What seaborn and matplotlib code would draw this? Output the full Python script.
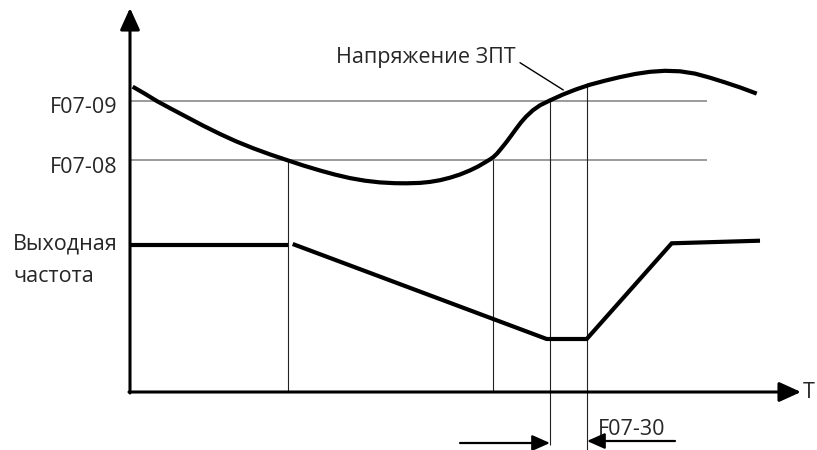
import matplotlib
matplotlib.use("Agg")
import matplotlib.pyplot as plt
import numpy as np
import pandas as pd
import seaborn as sns

sns.set_theme(style="white")
plt.rcParams["font.family"] = ["Open Sans", "DejaVu Sans"]

# DC bus voltage over time (schematic units)
volt_t = [2.7, 15.0, 26.7, 41.0, 56.7, 73.0, 90.0, 106.0, 123.3, 140.0,
          156.7, 173.0, 190.0, 205.0, 220.0, 235.0, 250.0, 265.0, 276.7, 290.0,
          300.0, 310.0, 320.0, 330.0, 340.0, 348.0, 355.0, 360.0, 363.3, 367.0,
          371.0, 376.0, 381.0, 386.0, 391.0, 396.0, 403.0, 410.0, 420.0, 433.0,
          446.0, 460.0, 475.0, 490.0, 505.0, 520.0, 535.0, 550.0, 565.0, 580.0,
          595.0, 610.0, 626.7]
volt_v = [305.3, 298.2, 291.0, 283.3, 275.0, 266.4, 258.0, 250.7, 243.7, 237.6,
          232.0, 226.6, 221.5, 217.4, 213.9, 211.3, 209.6, 208.8, 208.7, 209.1,
          210.1, 211.8, 214.3, 217.5, 221.6, 225.5, 229.6, 232.6, 234.9, 238.4,
          243.2, 249.4, 256.1, 263.0, 269.6, 275.3, 281.8, 286.7, 291.6, 297.5,
          302.6, 307.3, 311.3, 314.9, 318.0, 320.2, 321.2, 320.7, 318.4, 314.3,
          309.6, 304.6, 298.4]

# Output frequency: hold, ramp down, hold, recover
freq_seg = [0, 0, 1, 1, 1, 1, 1]
freq_t = [0.0, 158.0, 162.7, 416.7, 456.7, 541.7, 630.0]
freq_f = [147.0, 147.0, 148.0, 53.0, 53.0, 148.7, 151.3]

# Threshold levels
level_names = ["F07-09", "F07-08"]
level_values = [291.0, 232.0]
level_end = 577.0

# Event instants and how far down each marker runs
event_t = [158.0, 363.0, 420.0, 457.0]
event_top = [232.0, 232.0, 291.0, 309.0]
event_bottom = [0.0, 0.0, -53.0, -58.0]

axis_x_end = 671.0
axis_y_end = 384.0

volt_df = pd.DataFrame({"t": volt_t, "v": volt_v})
freq_df = pd.DataFrame({"t": freq_t, "f": freq_f, "seg": freq_seg})

fig = plt.figure(figsize=(8.17, 4.5), dpi=100)
ax = fig.add_axes([0, 0, 1, 1])
ax.set_xlim(-130, 687)
ax.set_ylim(-58, 392)
ax.axis("off")

# threshold levels
ax.hlines(level_values, 0, level_end, color="#808080", lw=1.1, zorder=1)

# event markers
ax.vlines(event_t, event_bottom, event_top, color="#222222", lw=0.8, zorder=1)

# curves
sns.lineplot(data=volt_df, x="t", y="v", sort=False, estimator=None,
             color="black", lw=3.0, ax=ax, zorder=3,
             solid_joinstyle="round", solid_capstyle="butt")
sns.lineplot(data=freq_df, x="t", y="f", units="seg", sort=False, estimator=None,
             color="black", lw=3.0, ax=ax, zorder=3,
             solid_joinstyle="miter", solid_capstyle="butt")
ax.set_xlabel("")
ax.set_ylabel("")

# axes with arrowheads
axis_style = dict(arrowstyle="-|>,head_length=1.1,head_width=0.5",
                  color="black", lw=2.2, shrinkA=0, shrinkB=0)
ax.annotate("", xy=(0, axis_y_end), xytext=(0, -1), arrowprops=axis_style)
ax.annotate("", xy=(axis_x_end, 0), xytext=(-1, 0), arrowprops=axis_style)

# F07-30 interval arrows
small_style = dict(arrowstyle="-|>,head_length=0.9,head_width=0.4",
                   color="black", lw=1.6, shrinkA=0, shrinkB=0)
ax.annotate("", xy=(420, -51), xytext=(330, -51), arrowprops=small_style)
ax.annotate("", xy=(457, -49), xytext=(545, -49), arrowprops=small_style)

fs = 15.5
ax.text(-13, 279, level_names[0], ha="right", va="baseline", fontsize=fs)
ax.text(-13, 219, level_names[1], ha="right", va="baseline", fontsize=fs)
ax.text(-117, 142, "Выходная", ha="left", va="baseline", fontsize=fs)
ax.text(-117, 110.5, "частота", ha="left", va="baseline", fontsize=fs)
ax.text(206, 329.3, "Напряжение ЗПТ", ha="left", va="baseline", fontsize=fs)
ax.plot([390, 433.3], [329.3, 302], color="black", lw=1.0)
ax.text(468, -43, "F07-30", ha="left", va="baseline", fontsize=fs)
ax.text(673, -6, "T", ha="left", va="baseline", fontsize=fs)

fig.savefig("out.png", dpi=100)
